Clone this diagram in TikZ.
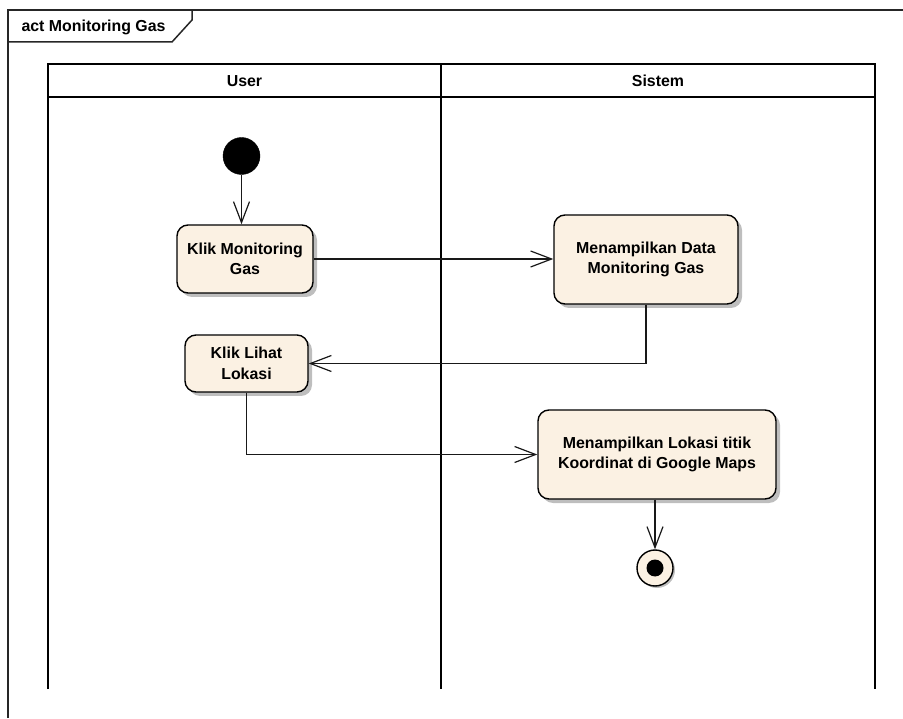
\documentclass[tikz,border=0pt]{standalone}
\usepackage{fontspec}
\setmainfont{Liberation Sans}
\usetikzlibrary{arrows.meta,shadows}

\definecolor{actfill}{RGB}{251,241,227}
\definecolor{shadowgray}{RGB}{190,190,190}

\tikzset{
  base/.style={font=\bfseries\fontsize{15.9}{20.5}\selectfont},
  action/.style={base, draw=black, line width=1.4pt, fill=actfill,
    rounded corners=11pt, align=center, inner sep=0pt,
    drop shadow={shadow xshift=4pt, shadow yshift=-4pt, fill=shadowgray, opacity=1}},
  startnode/.style={circle, fill=black, draw=black, inner sep=0pt, minimum size=37pt},
  endouter/.style={circle, fill=actfill, draw=black, line width=1.4pt, inner sep=0pt,
    minimum size=36pt,
    drop shadow={shadow xshift=2pt, shadow yshift=-2pt, fill=shadowgray, opacity=1}},
  endinner/.style={circle, fill=black, inner sep=0pt, minimum size=17pt},
  flow/.style={draw=black!90, line width=1.2pt,
    -{Straight Barb[length=21pt, width=16pt, line width=1.2pt]}},
  lane/.style={draw=black, line width=1.6pt},
  frame/.style={draw=black!85, line width=1.5pt},
}

\begin{document}
\begin{tikzpicture}[x=1pt, y=-1pt]
  \useasboundingbox (0,0) rectangle (903,719);

  % diagram frame with its name tab
  \draw[frame] (8,718) -- (8,10) -- (903,10);
  \draw[frame] (8,42) -- (172,42) -- (192,20) -- (192,10);
  \node[base, anchor=west] (title) at (18,27) {act Monitoring Gas};

  % swimlanes
  \draw[lane] (48,689) -- (48,64) -- (875,64) -- (875,689);
  \draw[lane] (48,97) -- (875,97);
  \draw[lane] (441,64) -- (441,689);
  \node[base] (userlane) at (244.5,81) {User};
  \node[base] (sistemlane) at (658,81) {Sistem};

  % activity nodes
  \node[startnode] (start) at (241.5,156) {};
  \node[action, minimum width=136pt, minimum height=68pt] (klikmon) at (245,259)
    {Klik Monitoring\\Gas};
  \node[action, minimum width=184pt, minimum height=89pt] (tampildata) at (646,259.5)
    {Menampilkan Data\\Monitoring Gas};
  \node[action, minimum width=123pt, minimum height=57pt] (kliklok) at (246.5,363.5)
    {Klik Lihat\\Lokasi};
  \node[action, minimum width=238pt, minimum height=89pt] (tampillok) at (657,454.5)
    {Menampilkan Lokasi titik\\Koordinat di Google Maps};
  \node[endouter] (final) at (655,568) {};
  \node[endinner] (finaldot) at (final.center) {};

  % control flows
  \draw[flow] (start.south) -- (start.south |- klikmon.north);
  \draw[flow] (klikmon.east) -- (klikmon.east -| tampildata.west);
  \draw[flow] (tampildata.south) |- (kliklok.east);
  \draw[flow] (kliklok.south) |- (tampillok.west);
  \draw[flow] (final.north |- tampillok.south) -- (final.north);
\end{tikzpicture}
\end{document}
